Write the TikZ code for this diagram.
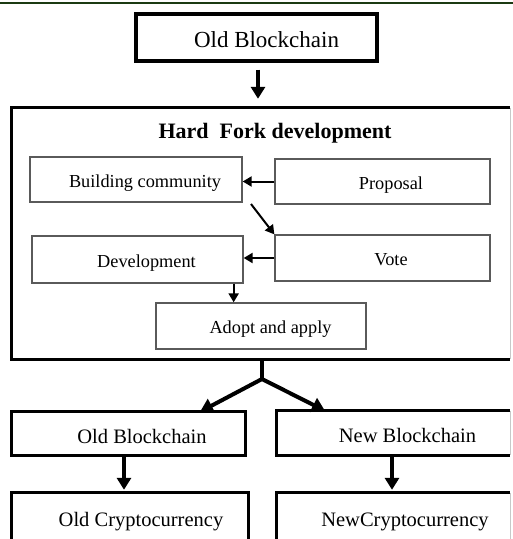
\documentclass[tikz,border=0pt]{standalone}
\usepackage{fontspec}
\setmainfont{Liberation Serif}
\usetikzlibrary{arrows.meta}
\definecolor{rulegreen}{HTML}{1B3A12}
\definecolor{thinframe}{HTML}{5A5A5A}
\definecolor{paleframe}{HTML}{C8C8C8}
\tikzset{
  heavybox/.style={draw=black, line width=3.2pt, rectangle, inner sep=0pt,
    text height=19.8pt, text depth=0pt},
  openbox/.style={rectangle, inner sep=0pt, text height=19.5pt, text depth=0pt},
  lightbox/.style={draw=thinframe, line width=1.3pt, rectangle, inner sep=0pt,
    text height=15.5pt, text depth=0pt, font=\fontsize{18.3}{20}\selectfont},
  heavyedge/.style={draw=black, line width=3.2pt},
  paleedge/.style={draw=paleframe, line width=1pt},
  bigarrow/.style={draw=black, line width=3.6pt,
    -{Triangle[length=12pt,width=14pt]}},
  forkarrow/.style={draw=black, line width=4pt,
    -{Triangle[length=13pt,width=15pt]}},
  smallarrow/.style={draw=black, line width=2pt,
    -{Triangle[length=9pt,width=10pt]}},
}
\begin{document}
\begin{tikzpicture}[x=1pt, y=-1pt]
  \clip (0,0) rectangle (513,539);
  \fill[white] (0,0) rectangle (513,539);

  % rule along the top edge
  \coordinate (rl) at (0,3);
  \coordinate (rr) at (513,3);
  \draw[rulegreen, line width=2pt] (rl) -- (rr);

  % original chain
  \node[heavybox, minimum width=241pt, minimum height=47pt,
        font=\fontsize{23}{25}\selectfont] (top) at (256.5,37.5)
        {\hspace*{20pt}Old Blockchain};

  % hard fork process frame (right side drawn pale)
  \node[openbox, minimum width=498pt, minimum height=251pt] (big) at (261,233.5) {};
  \draw[heavyedge] (big.north east) -- (big.north west) -- (big.south west) -- (big.south east);
  \draw[paleedge] (big.north east) -- (big.south east);
  \node[font=\bfseries\fontsize{22}{24}\selectfont] (title) at (275,133)
        {Hard\ \ Fork development};

  % process steps
  \node[lightbox, minimum width=212pt, minimum height=45pt] (bc) at (136,179.5)
        {\hspace*{18pt}Building community};
  \node[lightbox, minimum width=215pt, minimum height=45pt] (prop) at (382.5,181.5)
        {\hspace*{17pt}Proposal};
  \node[lightbox, minimum width=211pt, minimum height=47pt] (dev) at (137.5,259.5)
        {\hspace*{18pt}Development};
  \node[lightbox, minimum width=215pt, minimum height=46pt] (vote) at (382.5,258)
        {\hspace*{17pt}Vote};
  \node[lightbox, minimum width=210pt, minimum height=46pt] (adopt) at (261,326)
        {\hspace*{19pt}Adopt and apply};

  % resulting chains and currencies
  \node[openbox, minimum width=233pt, minimum height=43pt,
        font=\fontsize{20.5}{22}\selectfont] (ob) at (128.5,433.5)
        {\hspace*{27pt}Old Blockchain};
  \draw[heavyedge] (ob.north west) rectangle (ob.south east);
  \node[openbox, minimum width=233pt, minimum height=44pt,
        font=\fontsize{20.5}{22}\selectfont] (nb) at (393.5,433)
        {\hspace*{28pt}New Blockchain};
  \draw[heavyedge] (nb.north east) -- (nb.north west) -- (nb.south west) -- (nb.south east);
  \draw[paleedge] (nb.north east) -- (nb.south east);
  \node[openbox, minimum width=236pt, minimum height=48pt,
        font=\fontsize{20.5}{22}\selectfont] (oc) at (130,517)
        {\hspace*{22pt}Old Cryptocurrency};
  \draw[heavyedge] (oc.north west) rectangle (oc.south east);
  \node[openbox, minimum width=233pt, minimum height=48pt,
        font=\fontsize{20.5}{22}\selectfont] (nc) at (393.5,517)
        {\hspace*{23pt}NewCryptocurrency};
  \draw[heavyedge] (nc.north east) -- (nc.north west) -- (nc.south west) -- (nc.south east);
  \draw[paleedge] (nc.north east) -- (nc.south east);

  % connectors
  \draw[bigarrow] ([xshift=1.5pt,yshift=-7pt]top.south)
               -- ([xshift=1.5pt,yshift=9pt]top.south |- big.north);
  \draw[smallarrow] (prop.west) -- (prop.west -| bc.east);
  \coordinate (diag) at (251,204);
  \draw[smallarrow] (diag) -- (vote.north west);
  \draw[smallarrow] (vote.west) -- (vote.west -| dev.east);
  \draw[smallarrow] ([xshift=-10pt]dev.south east) -- ([xshift=-10pt]dev.south east |- adopt.north);

  \coordinate (fk) at (262,379);
  \draw[black, line width=4pt] (big.south -| fk) -- (fk);
  \draw[forkarrow] (fk) -- ([xshift=71.5pt]ob.north);
  \draw[forkarrow] (fk) -- ([xshift=-68.5pt]nb.north);

  \draw[bigarrow] ([xshift=-4.5pt]ob.south) -- ([xshift=-4.5pt,yshift=3pt]ob.south |- oc.north);
  \draw[bigarrow] ([xshift=-1.5pt]nb.south) -- ([xshift=-1.5pt,yshift=3pt]nb.south |- nc.north);
\end{tikzpicture}
\end{document}
